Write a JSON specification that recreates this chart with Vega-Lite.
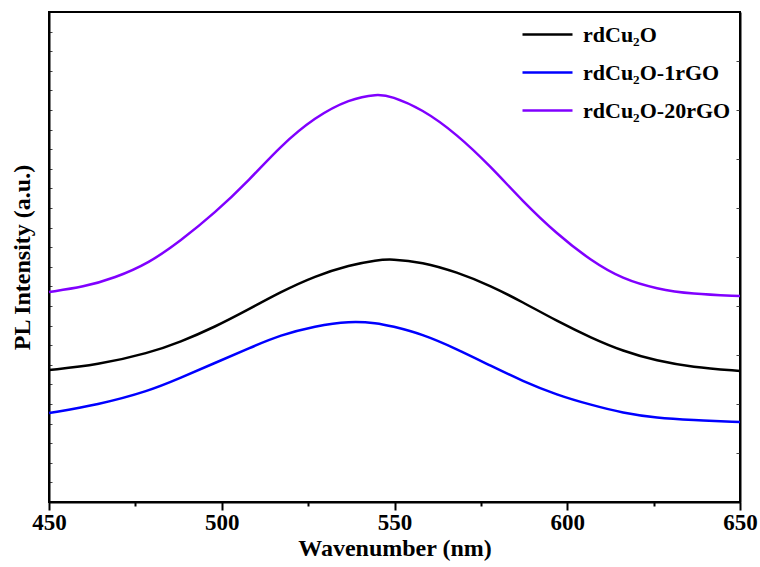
{
  "$schema": "https://vega.github.io/schema/vega-lite/v6.json",
  "width": 760,
  "height": 567,
  "autosize": {"type": "fit", "contains": "padding"},
  "padding": {"left": 10, "top": 12, "right": 2, "bottom": 7},
  "config": {
    "view": {"stroke": "black", "strokeWidth": 2},
    "font": "Liberation Serif",
    "axis": {"grid": false, "domainColor": "black", "domainWidth": 2, "tickColor": "black"}
  },
  "data": {
    "values": [
      {"wl": 450, "intensity": 132, "sample": "rdCu₂O"},
      {"wl": 464, "intensity": 137, "sample": "rdCu₂O"},
      {"wl": 479, "intensity": 149, "sample": "rdCu₂O"},
      {"wl": 488, "intensity": 160, "sample": "rdCu₂O"},
      {"wl": 498, "intensity": 175, "sample": "rdCu₂O"},
      {"wl": 508, "intensity": 193, "sample": "rdCu₂O"},
      {"wl": 517, "intensity": 210, "sample": "rdCu₂O"},
      {"wl": 527, "intensity": 226, "sample": "rdCu₂O"},
      {"wl": 537, "intensity": 237, "sample": "rdCu₂O"},
      {"wl": 545, "intensity": 242, "sample": "rdCu₂O"},
      {"wl": 549, "intensity": 243, "sample": "rdCu₂O"},
      {"wl": 558, "intensity": 240, "sample": "rdCu₂O"},
      {"wl": 568, "intensity": 230, "sample": "rdCu₂O"},
      {"wl": 578, "intensity": 216, "sample": "rdCu₂O"},
      {"wl": 587, "intensity": 200, "sample": "rdCu₂O"},
      {"wl": 597, "intensity": 181, "sample": "rdCu₂O"},
      {"wl": 607, "intensity": 164, "sample": "rdCu₂O"},
      {"wl": 616, "intensity": 151, "sample": "rdCu₂O"},
      {"wl": 626, "intensity": 141, "sample": "rdCu₂O"},
      {"wl": 636, "intensity": 135, "sample": "rdCu₂O"},
      {"wl": 650, "intensity": 131, "sample": "rdCu₂O"},
      {"wl": 450, "intensity": 89, "sample": "rdCu₂O-1rGO"},
      {"wl": 464, "intensity": 97, "sample": "rdCu₂O-1rGO"},
      {"wl": 479, "intensity": 111, "sample": "rdCu₂O-1rGO"},
      {"wl": 488, "intensity": 124, "sample": "rdCu₂O-1rGO"},
      {"wl": 498, "intensity": 139, "sample": "rdCu₂O-1rGO"},
      {"wl": 508, "intensity": 154, "sample": "rdCu₂O-1rGO"},
      {"wl": 517, "intensity": 167, "sample": "rdCu₂O-1rGO"},
      {"wl": 527, "intensity": 176, "sample": "rdCu₂O-1rGO"},
      {"wl": 537, "intensity": 181, "sample": "rdCu₂O-1rGO"},
      {"wl": 545, "intensity": 179, "sample": "rdCu₂O-1rGO"},
      {"wl": 549, "intensity": 176, "sample": "rdCu₂O-1rGO"},
      {"wl": 558, "intensity": 168, "sample": "rdCu₂O-1rGO"},
      {"wl": 568, "intensity": 153, "sample": "rdCu₂O-1rGO"},
      {"wl": 578, "intensity": 136, "sample": "rdCu₂O-1rGO"},
      {"wl": 587, "intensity": 121, "sample": "rdCu₂O-1rGO"},
      {"wl": 597, "intensity": 107, "sample": "rdCu₂O-1rGO"},
      {"wl": 607, "intensity": 97, "sample": "rdCu₂O-1rGO"},
      {"wl": 616, "intensity": 89, "sample": "rdCu₂O-1rGO"},
      {"wl": 626, "intensity": 84, "sample": "rdCu₂O-1rGO"},
      {"wl": 636, "intensity": 82, "sample": "rdCu₂O-1rGO"},
      {"wl": 650, "intensity": 80, "sample": "rdCu₂O-1rGO"},
      {"wl": 450, "intensity": 210, "sample": "rdCu₂O-20rGO"},
      {"wl": 460, "intensity": 215, "sample": "rdCu₂O-20rGO"},
      {"wl": 469, "intensity": 224, "sample": "rdCu₂O-20rGO"},
      {"wl": 479, "intensity": 239, "sample": "rdCu₂O-20rGO"},
      {"wl": 488, "intensity": 261, "sample": "rdCu₂O-20rGO"},
      {"wl": 498, "intensity": 289, "sample": "rdCu₂O-20rGO"},
      {"wl": 508, "intensity": 322, "sample": "rdCu₂O-20rGO"},
      {"wl": 517, "intensity": 356, "sample": "rdCu₂O-20rGO"},
      {"wl": 527, "intensity": 385, "sample": "rdCu₂O-20rGO"},
      {"wl": 537, "intensity": 403, "sample": "rdCu₂O-20rGO"},
      {"wl": 545, "intensity": 408, "sample": "rdCu₂O-20rGO"},
      {"wl": 549, "intensity": 406, "sample": "rdCu₂O-20rGO"},
      {"wl": 558, "intensity": 393, "sample": "rdCu₂O-20rGO"},
      {"wl": 568, "intensity": 368, "sample": "rdCu₂O-20rGO"},
      {"wl": 578, "intensity": 335, "sample": "rdCu₂O-20rGO"},
      {"wl": 587, "intensity": 301, "sample": "rdCu₂O-20rGO"},
      {"wl": 597, "intensity": 268, "sample": "rdCu₂O-20rGO"},
      {"wl": 607, "intensity": 241, "sample": "rdCu₂O-20rGO"},
      {"wl": 616, "intensity": 223, "sample": "rdCu₂O-20rGO"},
      {"wl": 626, "intensity": 213, "sample": "rdCu₂O-20rGO"},
      {"wl": 636, "intensity": 208, "sample": "rdCu₂O-20rGO"},
      {"wl": 650, "intensity": 206, "sample": "rdCu₂O-20rGO"}
    ]
  },
  "layer": [
    {
      "mark": {"type": "line", "strokeWidth": 2.5, "interpolate": "basis"},
      "encoding": {
        "x": {
          "field": "wl", "type": "quantitative",
          "scale": {"domain": [450, 650], "nice": false, "zero": false},
          "axis": {
            "title": "Wavenumber (nm)",
            "values": [450, 475, 500, 525, 550, 575, 600, 625, 650],
            "labelExpr": "datum.value % 50 === 0 ? datum.label : ''",
            "labelFlush": false,
            "tickSize": {"condition": {"test": "datum.value % 50 === 0", "value": 8}, "value": 4},
            "tickWidth": 2,
            "labelFont": "Liberation Serif", "labelFontWeight": "bold", "labelFontSize": 23,
            "labelColor": "black", "labelPadding": 1,
            "titleFont": "Liberation Serif", "titleFontWeight": "bold", "titleFontSize": 24,
            "titleColor": "black", "titlePadding": 2
          }
        },
        "y": {
          "field": "intensity", "type": "quantitative",
          "scale": {"domain": [0, 490], "nice": false, "zero": false},
          "axis": {
            "title": "PL Intensity (a.u.)",
            "labels": false,
            "values": [19.6, 39.2, 58.8, 78.4, 98, 117.6, 137.2, 156.8, 176.4, 196, 215.6, 235.2, 254.8, 274.4, 294, 313.6, 333.2, 352.8, 372.4, 392, 411.6, 431.2, 450.8, 470.4],
            "tickSize": -3, "tickWidth": 1, "tickColor": "#444",
            "titleFont": "Liberation Serif", "titleFontWeight": "bold", "titleFontSize": 24,
            "titleColor": "black", "titlePadding": 14
          }
        },
        "color": {
          "field": "sample", "type": "nominal",
          "scale": {"domain": ["rdCu₂O", "rdCu₂O-1rGO", "rdCu₂O-20rGO"], "range": ["#000000", "#0000ff", "#8000ff"]},
          "legend": {
            "orient": "none", "legendX": 472, "legendY": -4, "title": null,
            "symbolType": "M-1,0H1", "symbolSize": 2500, "symbolStrokeWidth": 2.5,
            "labelFont": "Liberation Serif", "labelFontWeight": "bold", "labelFontSize": 22,
            "labelColor": "black", "rowPadding": -2, "labelOffset": 9
          }
        }
      }
    },
    {
      "mark": {"type": "line", "strokeOpacity": 0},
      "encoding": {
        "x": {"field": "wl", "type": "quantitative"},
        "y": {
          "field": "intensity", "type": "quantitative",
          "axis": {
            "orient": "right", "title": null, "labels": false,
            "values": [49, 98, 147, 196, 245, 294, 343, 392, 441],
            "tickSize": -4, "tickWidth": 1, "tickColor": "#444"
          }
        },
        "detail": {"field": "sample"}
      }
    }
  ],
  "resolve": {"axis": {"y": "independent"}}
}
